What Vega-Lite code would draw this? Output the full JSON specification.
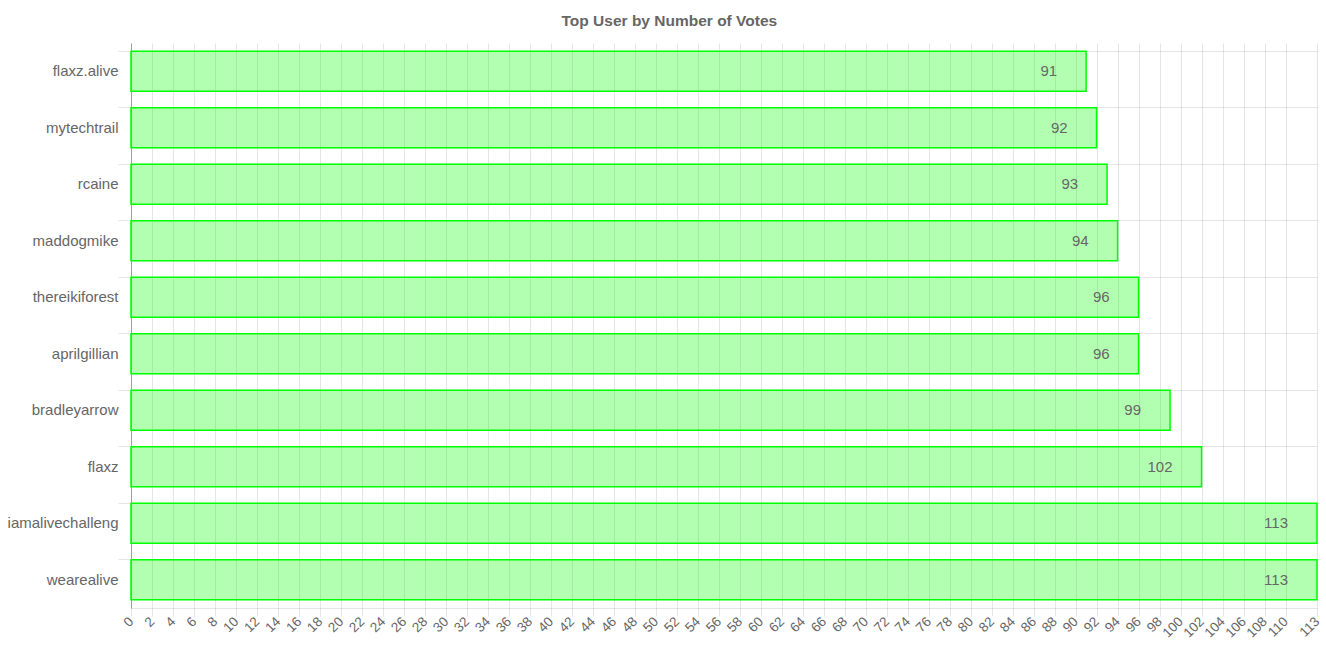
{
  "$schema": "https://vega.github.io/schema/vega-lite/v6.json",
  "autosize": "none",
  "width": 1186,
  "height": 565,
  "padding": {"left": 131, "top": 43, "right": 9, "bottom": 54},
  "background": "white",
  "title": {
    "text": "Top User by Number of Votes",
    "frame": "bounds",
    "anchor": "middle",
    "font": "Liberation Sans",
    "fontSize": 15.5,
    "fontWeight": "bold",
    "color": "#666666",
    "offset": 14,
    "dx": 5
  },
  "config": {
    "view": {"stroke": null},
    "axis": {"labelFont": "Liberation Sans", "labelColor": "#666666", "titleFont": "Liberation Sans"}
  },
  "data": {
    "values": [
      {"user": "flaxz.alive", "votes": 91},
      {"user": "mytechtrail", "votes": 92},
      {"user": "rcaine", "votes": 93},
      {"user": "maddogmike", "votes": 94},
      {"user": "thereikiforest", "votes": 96},
      {"user": "aprilgillian", "votes": 96},
      {"user": "bradleyarrow", "votes": 99},
      {"user": "flaxz", "votes": 102},
      {"user": "iamalivechalleng", "votes": 113},
      {"user": "wearealive", "votes": 113}
    ]
  },
  "encoding": {
    "y": {
      "field": "user",
      "type": "nominal",
      "sort": null,
      "title": null,
      "scale": {"paddingInner": 0.29, "paddingOuter": 0.145},
      "axis": {
        "bandPosition": 0,
        "grid": true,
        "gridColor": "#000000",
        "gridOpacity": 0.1,
        "domainColor": "#000000",
        "domainOpacity": 0.3,
        "tickColor": "#000000",
        "tickOpacity": 0.1,
        "tickSize": 13,
        "labelFontSize": 15,
        "labelPadding": 0,
        "labelBound": false
      }
    },
    "x": {
      "field": "votes",
      "type": "quantitative",
      "title": null,
      "scale": {"domain": [0, 113], "nice": false, "zero": true},
      "axis": {
        "values": [0,2,4,6,8,10,12,14,16,18,20,22,24,26,28,30,32,34,36,38,40,42,44,46,48,50,52,54,56,58,60,62,64,66,68,70,72,74,76,78,80,82,84,86,88,90,92,94,96,98,100,102,104,106,108,110,113],
        "grid": true,
        "gridColor": "#000000",
        "gridOpacity": 0.1,
        "domainColor": "#000000",
        "domainOpacity": 0.1,
        "tickColor": "#000000",
        "tickOpacity": 0.1,
        "tickSize": 8,
        "labelAngle": -45,
        "labelAlign": "right",
        "labelBaseline": "middle",
        "labelFontSize": 13.5,
        "labelPadding": 3,
        "labelOverlap": false,
        "labelFlush": false
      }
    }
  },
  "layer": [
    {
      "mark": {"type": "bar", "fill": "#00ff00", "fillOpacity": 0.3, "stroke": "#00ff00", "strokeWidth": 1.5}
    },
    {
      "mark": {"type": "text", "align": "right", "baseline": "middle", "dx": -29, "font": "Liberation Sans", "fontSize": 15, "color": "#666666"},
      "encoding": {"text": {"field": "votes", "type": "quantitative"}}
    }
  ]
}
